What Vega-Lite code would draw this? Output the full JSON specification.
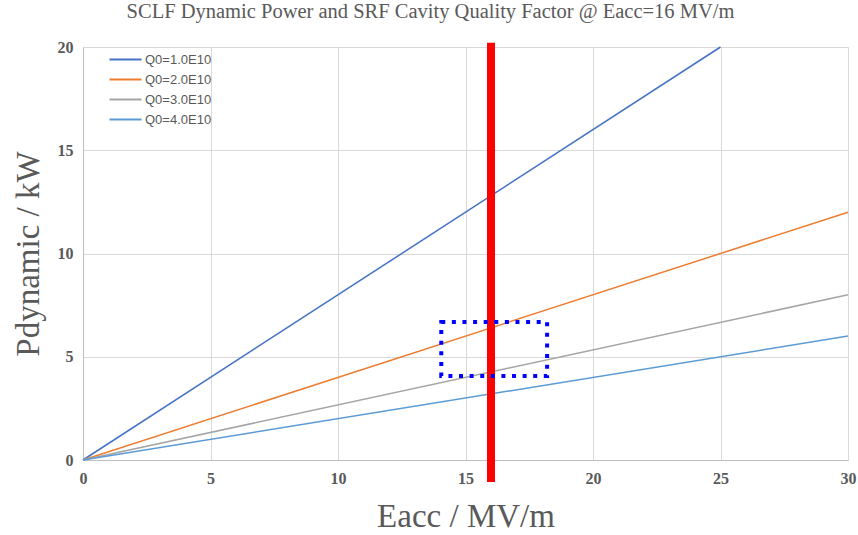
{
  "$schema": "https://vega.github.io/schema/vega-lite/v6.json",
  "width": 765,
  "height": 413,
  "autosize": {"type": "none"},
  "padding": {"left": 83, "top": 47, "right": 10, "bottom": 75},
  "background": "white",
  "title": {
    "text": "SCLF Dynamic Power and SRF Cavity Quality Factor @ Eacc=16 MV/m",
    "font": "Liberation Serif",
    "fontSize": 20.5,
    "fontWeight": "normal",
    "color": "#595959",
    "anchor": "middle",
    "dx": -35,
    "offset": 16
  },
  "config": {
    "view": {"stroke": null},
    "axis": {
      "gridColor": "#d9d9d9",
      "gridWidth": 1,
      "domainColor": "#bfbfbf",
      "ticks": false,
      "labelFlush": false,
      "labelFont": "Liberation Serif",
      "labelFontWeight": "bold",
      "labelFontSize": 16,
      "labelColor": "#595959",
      "titleFont": "Liberation Serif",
      "titleFontWeight": "normal",
      "titleFontSize": 33,
      "titleColor": "#595959"
    }
  },
  "datasets": {
    "lines": [
      {"series": "Q0=1.0E10", "E": 0, "P": 0},
      {"series": "Q0=1.0E10", "E": 25, "P": 20},
      {"series": "Q0=2.0E10", "E": 0, "P": 0},
      {"series": "Q0=2.0E10", "E": 30, "P": 12},
      {"series": "Q0=3.0E10", "E": 0, "P": 0},
      {"series": "Q0=3.0E10", "E": 30, "P": 8},
      {"series": "Q0=4.0E10", "E": 0, "P": 0},
      {"series": "Q0=4.0E10", "E": 30, "P": 6}
    ],
    "marker": [{"E": 16, "P": -1.07, "P2": 20.2}],
    "box": [{"E": 14.05, "E2": 18.2, "P": 4.07, "P2": 6.68}]
  },
  "layer": [
    {
      "data": {"name": "lines"},
      "mark": {"type": "line", "strokeWidth": 1.5},
      "encoding": {
        "x": {
          "field": "E", "type": "quantitative",
          "scale": {"domain": [0, 30], "nice": false},
          "axis": {"values": [0, 5, 10, 15, 20, 25, 30], "labelPadding": 10, "title": "Eacc / MV/m", "titlePadding": 14}
        },
        "y": {
          "field": "P", "type": "quantitative",
          "scale": {"domain": [0, 20], "nice": false},
          "axis": {"values": [0, 5, 10, 15, 20], "labelPadding": 10, "title": "Pdynamic / kW", "titlePadding": 12}
        },
        "color": {
          "field": "series", "type": "nominal",
          "scale": {"domain": ["Q0=1.0E10", "Q0=2.0E10", "Q0=3.0E10", "Q0=4.0E10"], "range": ["#4472C4", "#ED7D31", "#A5A5A5", "#5B9BD5"]},
          "legend": {
            "title": null,
            "orient": "none",
            "legendX": 36,
            "legendY": 6,
            "symbolType": "M-3.2,0H3.2",
            "symbolSize": 100,
            "symbolStrokeWidth": 2,
            "labelOffset": 13,
            "labelFont": "Liberation Sans",
            "labelFontSize": 13,
            "labelColor": "#595959",
            "rowPadding": 6
          }
        }
      }
    },
    {
      "data": {"name": "marker"},
      "mark": {"type": "rule", "color": "#FF0000", "strokeWidth": 8, "clip": false},
      "encoding": {
        "x": {"field": "E", "type": "quantitative"},
        "y": {"field": "P", "type": "quantitative"},
        "y2": {"field": "P2"}
      }
    },
    {
      "data": {"name": "box"},
      "mark": {"type": "rect", "fill": null, "fillOpacity": 0, "stroke": "#0000FF", "strokeWidth": 4, "strokeDash": [4, 6.6]},
      "encoding": {
        "x": {"field": "E", "type": "quantitative"},
        "x2": {"field": "E2"},
        "y": {"field": "P", "type": "quantitative"},
        "y2": {"field": "P2"}
      }
    }
  ]
}
